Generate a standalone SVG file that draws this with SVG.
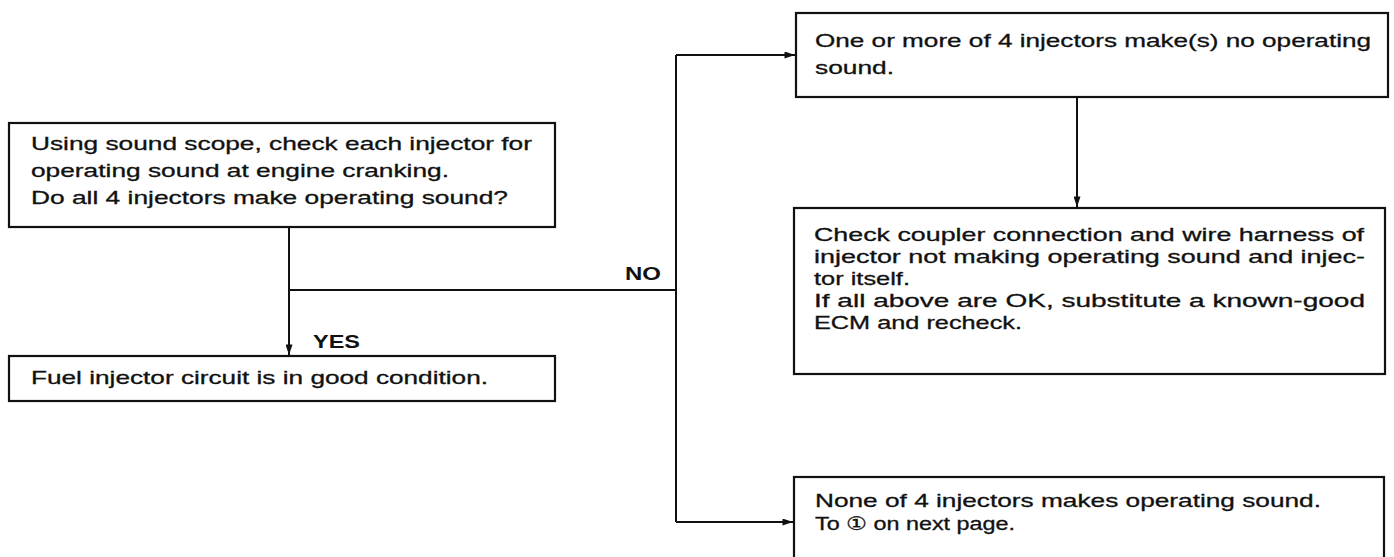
<svg xmlns="http://www.w3.org/2000/svg" width="1394" height="557" viewBox="0 0 1394 557">
  <style>
    .box { fill: #fff; stroke: #111; stroke-width: 2.2; }
    .line { fill: none; stroke: #111; stroke-width: 2; }
    text { font-family: "Liberation Sans", "DejaVu Sans", Arial, sans-serif; font-size: 18.5px; fill: #111; stroke: #111; stroke-width: 0.3; }
    .lbl { font-weight: bold; font-size: 18px; stroke-width: 0; }
  </style>
  <defs>
    <marker id="arrow" viewBox="0 0 12 8" refX="12" refY="4" markerWidth="12" markerHeight="7" markerUnits="userSpaceOnUse" orient="auto">
      <path d="M0,0 L12,4 L0,8 z" fill="#111"/>
    </marker>
  </defs>
  <rect width="1394" height="557" fill="#fff"/>

  <!-- connectors -->
  <g id="connectors">
    <path class="line" d="M289,227 V355" marker-end="url(#arrow)"/>
    <path class="line" d="M289,290 H676"/>
    <path class="line" d="M676,55 V522"/>
    <path class="line" d="M676,55 H795" marker-end="url(#arrow)"/>
    <path class="line" d="M676,522 H793" marker-end="url(#arrow)"/>
    <path class="line" d="M1077,97 V207" marker-end="url(#arrow)"/>
    <text class="lbl" x="625" y="280" textLength="36" lengthAdjust="spacingAndGlyphs">NO</text>
    <text class="lbl" x="313" y="348" textLength="47" lengthAdjust="spacingAndGlyphs">YES</text>
  </g>

  <!-- check injectors for operating sound -->
  <g id="check-sound">
    <rect class="box" x="9" y="123" width="546" height="104"/>
    <text x="31" y="150" textLength="501" lengthAdjust="spacingAndGlyphs">Using sound scope, check each injector for</text>
    <text x="31" y="177" textLength="418" lengthAdjust="spacingAndGlyphs">operating sound at engine cranking.</text>
    <text x="31" y="204" textLength="477" lengthAdjust="spacingAndGlyphs">Do all 4 injectors make operating sound?</text>
  </g>

  <!-- good condition -->
  <g id="good-condition">
    <rect class="box" x="9" y="356" width="546" height="45"/>
    <text x="31" y="384" textLength="457" lengthAdjust="spacingAndGlyphs">Fuel injector circuit is in good condition.</text>
  </g>

  <!-- some injectors silent -->
  <g id="some-silent">
    <rect class="box" x="796" y="13" width="592" height="84"/>
    <text x="815" y="47" textLength="556" lengthAdjust="spacingAndGlyphs">One or more of 4 injectors make(s) no operating</text>
    <text x="815" y="74" textLength="79" lengthAdjust="spacingAndGlyphs">sound.</text>
  </g>

  <!-- coupler and harness check -->
  <g id="check-coupler">
    <rect class="box" x="794" y="208" width="591" height="166"/>
    <text x="814" y="241" textLength="550" lengthAdjust="spacingAndGlyphs">Check coupler connection and wire harness of</text>
    <text x="814" y="263" textLength="551" lengthAdjust="spacingAndGlyphs">injector not making operating sound and injec-</text>
    <text x="814" y="285" textLength="96" lengthAdjust="spacingAndGlyphs">tor itself.</text>
    <text x="814" y="307" textLength="551" lengthAdjust="spacingAndGlyphs">If all above are OK, substitute a known-good</text>
    <text x="814" y="329" textLength="208" lengthAdjust="spacingAndGlyphs">ECM and recheck.</text>
  </g>

  <!-- all injectors silent -->
  <g id="none-sound">
    <rect class="box" x="794" y="477" width="590" height="90"/>
    <text x="815" y="507" textLength="506" lengthAdjust="spacingAndGlyphs">None of 4 injectors makes operating sound.</text>
    <text x="815" y="530" textLength="200" lengthAdjust="spacingAndGlyphs">To ① on next page.</text>
  </g>
</svg>
